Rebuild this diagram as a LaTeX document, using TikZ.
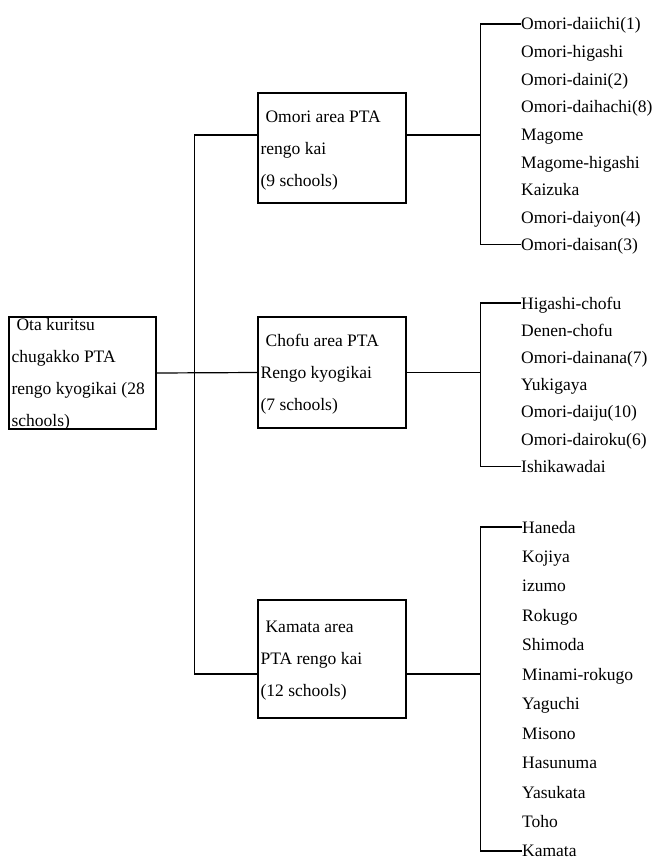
\documentclass[tikz,border=0pt]{standalone}
\usepackage{fontspec}
\setmainfont{Liberation Serif}
\usepackage{tikz}

\tikzset{
  area/.style={draw, line width=1.2pt, minimum width=148pt, inner sep=0pt},
  areatext/.style={anchor=west, align=left, inner sep=0pt, font=\fontsize{17.5}{32}\selectfont},
  school/.style={anchor=base west, inner sep=0pt, font=\fontsize{17.5}{21}\selectfont},
  link/.style={line width=1.2pt}
}

\begin{document}
\begin{tikzpicture}[x=1pt, y=-1pt]
        \useasboundingbox (0,0) rectangle (662,859);
        % area boxes
        \node[area, minimum width=147pt, minimum height=112pt] (ota) at (82.5,373) {};
        \node[area, minimum height=110pt] (omori) at (332,148) {};
        \node[area, minimum height=111pt] (chofu) at (332,372.5) {};
        \node[area, minimum height=118pt] (kamata) at (332,659) {};
        \node[areatext] (otatext) at ([xshift=3pt,yshift=-1pt]ota.west) {\hspace*{5pt}Ota kuritsu\\chugakko PTA\\rengo kyogikai (28\\schools)};
        \node[areatext] (omoritext) at ([xshift=3pt,yshift=-3pt]omori.west) {\hspace*{5pt}Omori area PTA\\rengo kai\\(9 schools)};
        \node[areatext] (chofutext) at ([xshift=3pt,yshift=-2pt]chofu.west) {\hspace*{5pt}Chofu area PTA\\Rengo kyogikai\\(7 schools)};
        \node[areatext] (kamatatext) at ([xshift=3pt,yshift=-2pt]kamata.west) {\hspace*{5pt}Kamata area\\PTA rengo kai\\(12 schools)};
        % schools
        \foreach \s [count=\i] in {Omori-daiichi(1), Omori-higashi, Omori-daini(2), Omori-daihachi(8), Magome, Magome-higashi, Kaizuka, Omori-daiyon(4), Omori-daisan(3)}
            \node[school] (om\i) at (521,{30+27.6*(\i-1)}) {\s};
        \foreach \s [count=\i] in {Higashi-chofu, Denen-chofu, Omori-dainana(7), Yukigaya, Omori-daiju(10), Omori-dairoku(6), Ishikawadai}
            \node[school] (ch\i) at (521,{309+27.2*(\i-1)}) {\s};
        \foreach \s [count=\i] in {Haneda, Kojiya, izumo, Rokugo, Shimoda, Minami-rokugo, Yaguchi, Misono, Hasunuma, Yasukata, Toho, Kamata}
            \node[school] (ka\i) at (522,{533+29.45*(\i-1)}) {\s};
        % connectors
        \draw[link] (ota.east) -- (chofu.west);
        \draw[link] ([yshift=13pt]omori.west) -- ++(-63,0) |- ([yshift=-15pt]kamata.west);
        \draw[link] ([yshift=13pt]omori.east) -- ++(74,0) coordinate (omfork);
        \draw[link] ([yshift=6pt]om1.base west) -| (omfork) |- ([yshift=6pt]om9.base west);
        \draw[link] (chofu.east) -- ++(74,0) coordinate (chfork);
        \draw[link] ([yshift=6pt]ch1.base west) -| (chfork) |- ([yshift=6pt]ch7.base west);
        \draw[link] ([yshift=-15pt]kamata.east) -- ++(74,0) coordinate (kafork);
        \draw[link] ([yshift=6pt]ka1.base west) -| (kafork) |- ([yshift=6pt]ka12.base west);
    \end{tikzpicture}
\end{document}
